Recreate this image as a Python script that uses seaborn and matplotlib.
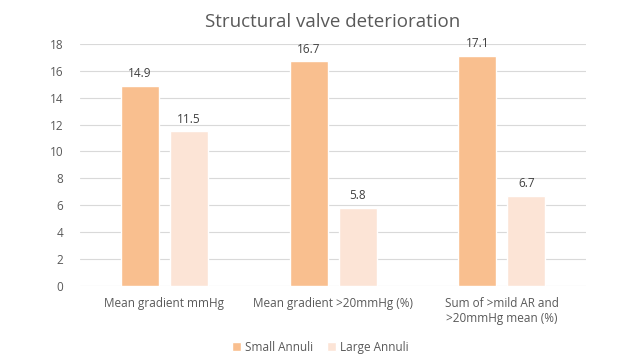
import matplotlib
matplotlib.use("Agg")
import matplotlib.pyplot as plt
import seaborn as sns
import pandas as pd

categories = ["Mean gradient mmHg", "Mean gradient >20mmHg (%)", "Sum of >mild AR and\n>20mmHg mean (%)"]
series = ["Small Annuli", "Large Annuli"]
small_vals = [14.9, 16.7, 17.1]
large_vals = [11.5, 5.8, 6.7]
yticks = list(range(0, 19, 2))

df = pd.DataFrame({
    "cat": categories * 2,
    "series": [series[0]] * 3 + [series[1]] * 3,
    "val": small_vals + large_vals,
})

sns.set_theme(style="white")
plt.rcParams['font.family'] = ['Open Sans', 'DejaVu Sans']
txt = "#595959"

fig = plt.figure(figsize=(6.4, 3.6), dpi=100)
ax = fig.add_axes([0.125, 0.206, 0.791, 0.672])
sns.barplot(data=df, x="cat", y="val", hue="series", order=categories, hue_order=series,
            palette=["#F9BF8F", "#FCE4D6"], saturation=1, width=0.58, gap=0.224, ax=ax, legend=True)
ax.set_ylim(0, 18)
ax.set_yticks(yticks)
ax.yaxis.grid(True, color="#D9D9D9", linewidth=0.8)
ax.set_axisbelow(True)
for s in ax.spines.values():
    s.set_visible(False)
ax.set_xlabel("")
ax.set_ylabel("")
ax.tick_params(axis="both", length=0, colors=txt, labelsize=8.5)
ax.tick_params(axis="y", pad=12)
ax.tick_params(axis="x", pad=8)
for c in ax.containers:
    ax.bar_label(c, fmt="%.1f", padding=4, color="#404040", fontsize=8.5)
ax.set_xlim(-0.5, 2.5)
ax.set_title("Structural valve deterioration", color=txt, fontsize=13.5, pad=12)
h, l = ax.get_legend_handles_labels()
ax.legend_.remove()
fig.legend(h, l, loc="center", bbox_to_anchor=(0.5, 0.035), ncol=2, frameon=False,
           fontsize=8.5, labelcolor=txt, handlelength=0.8, handleheight=0.8,
           handletextpad=0.3, columnspacing=1.2)
fig.savefig("out.png", dpi=100)
